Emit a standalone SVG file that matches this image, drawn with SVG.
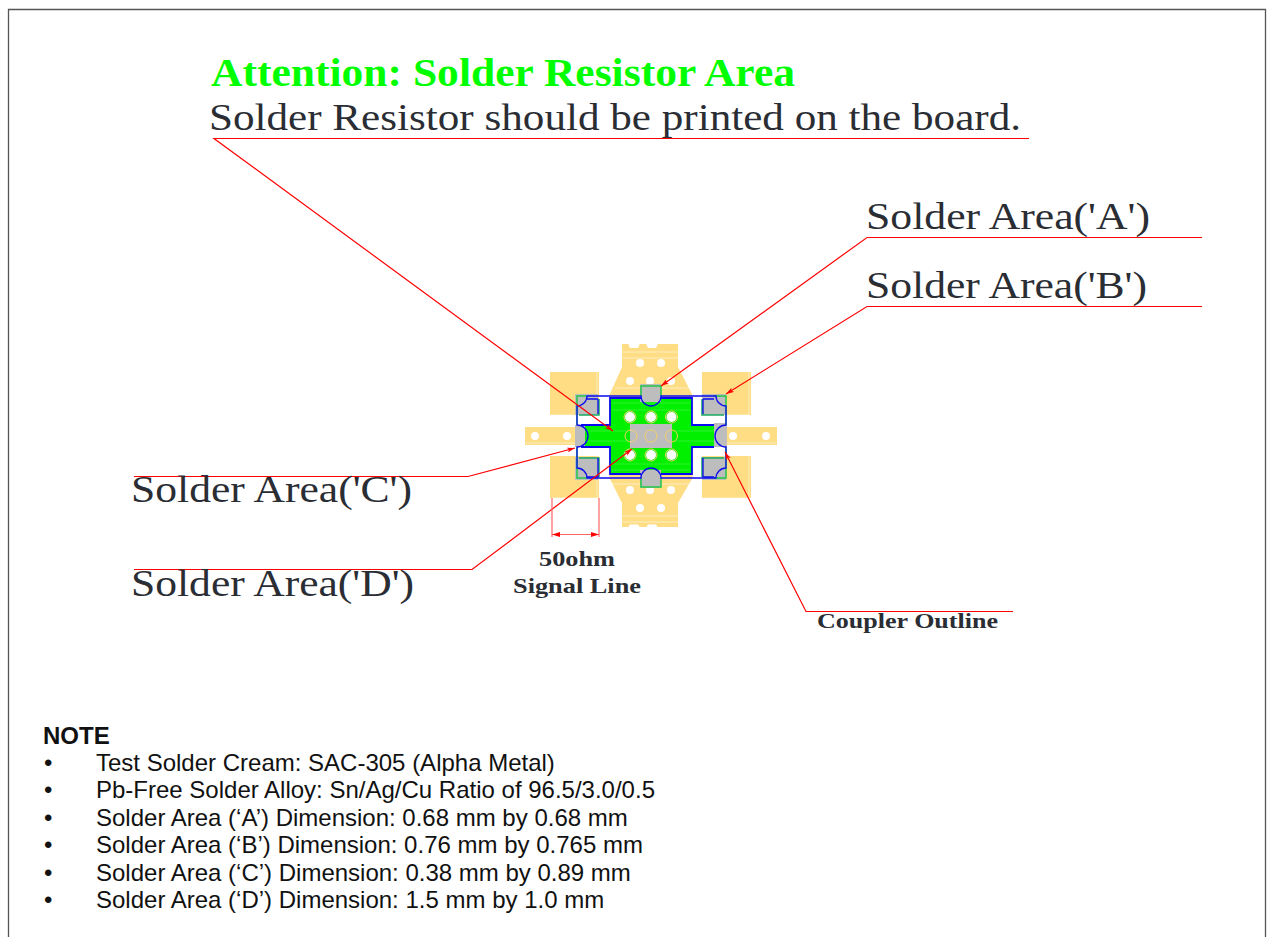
<svg xmlns="http://www.w3.org/2000/svg" width="1270" height="937" viewBox="0 0 1270 937">
<style>
.ser{font-family:"Liberation Serif","Times New Roman",serif;fill:#2a2d33}
.big{font-size:38px}
.lab{font-size:21px;font-weight:bold}
.note{font-family:"Liberation Sans",Arial,sans-serif;font-size:24px;fill:#111}
.red{stroke:#f00;stroke-width:1.200;fill:none}
.ye{fill:#fedd84}
.gy{fill:#bdbdbd}
.bl{stroke:#0a0af0;stroke-width:1.800;fill:none}
.gl{stroke:#22c844;stroke-width:1.500;fill:none}
.ho{fill:#fff}
.ri{fill:none;stroke:#f5cf6a;stroke-width:1}
.st{stroke:#fff;stroke-width:.8;fill:none;opacity:.6}
.sg{stroke:#fff;stroke-width:.6;fill:none;opacity:.3}
</style>
<defs><marker id="ah" viewBox="0 0 8 5" refX="8" refY="2.500" markerWidth="8" markerHeight="5" orient="auto" markerUnits="userSpaceOnUse"><path d="M0 0L8 2.500L0 5L2 2.500z" fill="#f00"/></marker></defs>
<path d="M8.500 937V9.500H1265.500V937" fill="none" stroke="#555" stroke-width="1.300"/>
<g id="pcb">
<path class="ye" d="M622 344H678V367L692.500 395V478L678 503V527H622V503L609.500 478V395L622 367Z"/>
<rect class="ye" x="550" y="372" width="49" height="43"/>
<rect class="ye" x="702" y="372" width="49" height="43"/>
<rect class="ye" x="550" y="456" width="49" height="42"/>
<rect class="ye" x="702" y="456" width="49" height="42"/>
<rect class="ye" x="525" y="427" width="55" height="18"/>
<rect class="ye" x="724" y="427" width="53" height="18"/>
<path class="st" d="M597 372V415H551M749 372V415H703M597 456V498H551M749 456V498H703M526 443H578M726 443H776M622 352H678M622 358H678M615 388H690M622 516H678M622 522H678M612 484H690"/>
<g class="ho"><circle cx="640" cy="363" r="4"/><circle cx="661" cy="363" r="4"/><circle cx="630" cy="381" r="4"/><circle cx="650" cy="381" r="4"/><circle cx="671" cy="381" r="4"/><circle cx="630" cy="490" r="4"/><circle cx="650" cy="490" r="4"/><circle cx="671" cy="490" r="4"/><circle cx="640" cy="508" r="4"/><circle cx="661" cy="508" r="4"/><circle cx="535" cy="436" r="4"/><circle cx="567" cy="436" r="4"/><circle cx="733" cy="436" r="4"/><circle cx="766" cy="436" r="4"/>
<path d="M628 343.500l2 4.500h8l2-4.500h6l2 4.500h8l2-4.500zM628 527.500l2-3h8l2 3h6l2-3h8l2 3z"/></g>
<path fill="#00f000" d="M610 398H692V425H724V447H692V474H610V447H580V425H610Z"/>
<path class="sg" d="M612 403H690M612 410H690M584 431H628M584 441H628M674 431H720M674 441H720M612 464H690M612 470H690"/>
<rect class="gy" x="630" y="424" width="42" height="24"/>
<g class="gy"><rect x="575" y="394" width="23" height="21"/><rect x="702" y="394" width="24" height="21"/><rect x="575" y="457" width="23" height="23"/><rect x="702" y="457" width="24" height="23"/><rect x="640" y="384" width="21" height="18"/><rect x="640" y="470" width="21" height="18"/><rect x="575" y="425" width="10" height="22"/><rect x="714" y="423" width="13" height="24"/></g>
<g class="ho"><circle cx="630" cy="417" r="5"/><circle cx="651" cy="417" r="5"/><circle cx="671.500" cy="417" r="5"/><circle cx="630" cy="455" r="5"/><circle cx="651" cy="455" r="5"/><circle cx="671.500" cy="455" r="5"/></g>
<g class="ri"><circle cx="630" cy="417" r="6"/><circle cx="651" cy="417" r="6"/><circle cx="671.500" cy="417" r="6"/><circle cx="630" cy="455" r="6"/><circle cx="651" cy="455" r="6"/><circle cx="671.500" cy="455" r="6"/><circle cx="631" cy="436" r="6"/><circle cx="651" cy="436" r="6"/><circle cx="671.500" cy="436" r="6"/></g>
<g class="gl"><path d="M641 396V386H661V396M641 478V487H661V478"/><path d="M587 396H577V425M577 447V478H587"/><path d="M714 396H726V425M726 447V478H714"/></g>
<g stroke="#1aa860" stroke-width="1.500" fill="none"><path d="M579 415H599V399M579 458H599V477M724 415H702V399M724 458H702V477"/></g>
<g class="bl"><path stroke-width="1.300" d="M587 396H641A10 10 0 0 0 661 396H716A10 10 0 0 0 726 406V425A11 11 0 0 0 726 447V468A10 10 0 0 0 716 478H661A10 10 0 0 0 641 478H587A10 10 0 0 0 577 468V447A11 11 0 0 0 577 425V406A10 10 0 0 0 587 396Z"/>
<path d="M714 425H692V398H661M641 398H610V425H581M581 447H610V474H641M661 474H692V447H714"/>
<path d="M598 399H587M598 399V414M598 477H587M598 458V477M703 399H714M703 399V414M703 477H714M703 477V458" stroke-width="1.300"/></g>
</g>
<g id="connectors">
<path class="red" d="M1029 138.500H214L613 431" marker-end="url(#ah)"/>
<path class="red" d="M1202 237.500H867L661 386" marker-end="url(#ah)"/>
<path class="red" d="M1202 306.500H867L726 394" marker-end="url(#ah)"/>
<path class="red" d="M134 476.500H468L575 448" marker-end="url(#ah)"/>
<path class="red" d="M134 569.500H472L632 449" marker-end="url(#ah)"/>
<path class="red" d="M1013 611.500H806L725 452" marker-end="url(#ah)"/>
<path stroke="#f66" stroke-width="1.200" fill="none" d="M552 498V537M599 498V537M552 534.500H599"/>
<path fill="#f00" d="M552 534.500l8-2.500v5zM599 534.500l-8-2.500v5z"/>
</g>
<g id="labels">
<text x="211" y="86" font-size="39" font-weight="bold" fill="#00ff00" font-family="Liberation Serif,serif" textLength="584" lengthAdjust="spacingAndGlyphs">Attention: Solder Resistor Area</text>
<text class="ser big" x="209" y="130" textLength="812" lengthAdjust="spacingAndGlyphs">Solder Resistor should be printed on the board.</text>
<text class="ser big" x="866" y="229" textLength="284" lengthAdjust="spacingAndGlyphs">Solder Area('A')</text>
<text class="ser big" x="866" y="298" textLength="281" lengthAdjust="spacingAndGlyphs">Solder Area('B')</text>
<text class="ser big" x="131" y="502" textLength="281" lengthAdjust="spacingAndGlyphs">Solder Area('C')</text>
<text class="ser big" x="131" y="596" textLength="283" lengthAdjust="spacingAndGlyphs">Solder Area('D')</text>
<text class="ser lab" x="539" y="566" textLength="76" lengthAdjust="spacingAndGlyphs">50ohm</text>
<text class="ser lab" x="513" y="593" textLength="128" lengthAdjust="spacingAndGlyphs">Signal Line</text>
<text class="ser lab" x="817" y="628" textLength="181" lengthAdjust="spacingAndGlyphs">Coupler Outline</text>
</g>
<g id="note">
<text class="note" x="43" y="744" font-weight="bold">NOTE</text>
<text class="note" x="44" y="771">•</text><text class="note" x="96" y="771">Test Solder Cream: SAC-305 (Alpha Metal)</text>
<text class="note" x="44" y="798">•</text><text class="note" x="96" y="798">Pb-Free Solder Alloy: Sn/Ag/Cu Ratio of 96.5/3.0/0.5</text>
<text class="note" x="44" y="826">•</text><text class="note" x="96" y="826">Solder Area (‘A’) Dimension: 0.68 mm by 0.68 mm</text>
<text class="note" x="44" y="853">•</text><text class="note" x="96" y="853">Solder Area (‘B’) Dimension: 0.76 mm by 0.765 mm</text>
<text class="note" x="44" y="881">•</text><text class="note" x="96" y="881">Solder Area (‘C’) Dimension: 0.38 mm by 0.89 mm</text>
<text class="note" x="44" y="908">•</text><text class="note" x="96" y="908">Solder Area (‘D’) Dimension: 1.5 mm by 1.0 mm</text>
</g>
</svg>
